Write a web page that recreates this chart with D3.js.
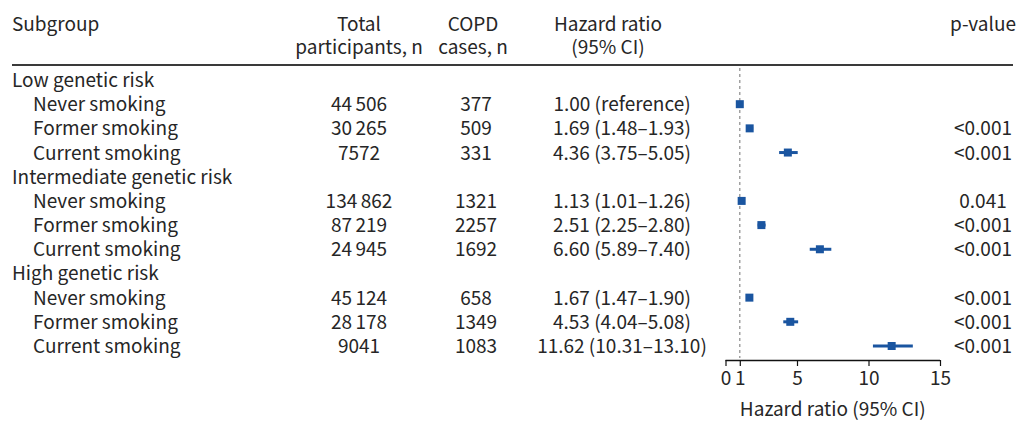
<!DOCTYPE html>
<html><head><meta charset="utf-8">
<script src="https://cdn.jsdelivr.net/npm/d3@7"></script>
<style>
body{margin:0;background:#fff;}
text{font-family:"Noto Sans CJK SC","Noto Sans",sans-serif;fill:#262626;}
</style></head>
<body>
<svg id="chart" width="1016" height="423"></svg>
<script>
const groups = ["Low genetic risk","Intermediate genetic risk","High genetic risk"];
const smoking = ["Never smoking","Former smoking","Current smoking"];
const totalN = [44506,30265,7572,134862,87219,24945,45124,28178,9041];
const copdCases = [377,509,331,1321,2257,1692,658,1349,1083];
const hr = [1.00,1.69,4.36,1.13,2.51,6.60,1.67,4.53,11.62];
const ciLow = [null,1.48,3.75,1.01,2.25,5.89,1.47,4.04,10.31];
const ciHigh = [null,1.93,5.05,1.26,2.80,7.40,1.90,5.08,13.10];
const pValues = ["","<0.001","<0.001","0.041","<0.001","<0.001","<0.001","<0.001","<0.001"];
const xTicks = [0,1,5,10,15];

const svg = d3.select("#chart");
const FS = 19;
const fmtHR = (i) => ciLow[i] == null ? d3.format(".2f")(hr[i]) + " (reference)"
  : d3.format(".2f")(hr[i]) + " (" + d3.format(".2f")(ciLow[i]) + "\u2013" + d3.format(".2f")(ciHigh[i]) + ")";

const rows = [];
groups.forEach((g, gi) => {
  rows.push({type:"group", label:g});
  smoking.forEach((s, si) => rows.push({type:"item", label:s, idx: gi*3+si}));
});
const y = d3.scalePoint().domain(d3.range(rows.length)).range([80, 346]);
const x = d3.scaleLinear().domain([0,15]).range([725.5, 940]);

const colX = {label:12, indent:33, total:359, cases:476, hr:622, p:983};
const baseOff = 7;

const hdr = svg.append("g").style("font-size", FS+"px");
hdr.append("text").attr("x", colX.label).attr("y", 31).text("Subgroup");
[["Total","participants, n",colX.total],["COPD","cases, n",colX.cases-3],["Hazard ratio","(95% CI)",608]].forEach(h=>{
  hdr.append("text").attr("x", h[2]).attr("y", 31).attr("text-anchor","middle").text(h[0]);
  hdr.append("text").attr("x", h[2]).attr("y", 54).attr("text-anchor","middle").text(h[1]);
});
hdr.append("text").attr("x", colX.p).attr("y", 31).attr("text-anchor","middle").text("p-value");
svg.append("line").attr("x1",12).attr("x2",1013).attr("y1",65).attr("y2",65)
  .attr("stroke","#3a3a3a").attr("stroke-width",2);

svg.append("line").attr("x1", x(1)).attr("x2", x(1)).attr("y1", 68).attr("y2", 358)
  .attr("stroke","#8a8a8a").attr("stroke-width",1.2).attr("stroke-dasharray","3,3");

const body = svg.append("g").style("font-size", FS+"px");
rows.forEach((r, ri) => {
  const yy = y(ri) + baseOff;
  if (r.type === "group") {
    body.append("text").attr("x", colX.label).attr("y", yy).text(r.label);
  } else {
    const i = r.idx;
    body.append("text").attr("x", colX.indent).attr("y", yy).text(r.label);
    const n = totalN[i];
    const t = body.append("text").attr("x", colX.total).attr("y", yy).attr("text-anchor","middle");
    if (n >= 10000) {
      const s = String(n);
      t.append("tspan").text(s.slice(0, s.length-3));
      t.append("tspan").attr("dx", 3.5).text(s.slice(-3));
    } else {
      t.text(String(n));
    }
    body.append("text").attr("x", colX.cases).attr("y", yy).attr("text-anchor","middle").text(copdCases[i]);
    body.append("text").attr("x", colX.hr).attr("y", yy).attr("text-anchor","middle").text(fmtHR(i));
    body.append("text").attr("x", colX.p).attr("y", yy).attr("text-anchor","middle").text(pValues[i]);
  }
});

const items = rows.map((r,ri)=>({...r, ri})).filter(r=>r.type==="item");
const marks = svg.append("g");
marks.selectAll("line.ci").data(items.filter(d=>ciLow[d.idx]!=null)).join("line")
  .attr("class","ci")
  .attr("x1", d=>x(ciLow[d.idx])).attr("x2", d=>x(ciHigh[d.idx]))
  .attr("y1", d=>y(d.ri)).attr("y2", d=>y(d.ri))
  .attr("stroke","#1a55a0").attr("stroke-width",3);
marks.selectAll("rect.pt").data(items).join("rect")
  .attr("class","pt")
  .attr("x", d=>x(hr[d.idx])-4).attr("y", d=>y(d.ri)-4)
  .attr("width",8).attr("height",8).attr("fill","#1a55a0");

const axis = d3.axisBottom(x).tickValues(xTicks).tickSize(6).tickPadding(6).tickFormat(d3.format("d"));
const ag = svg.append("g").attr("transform","translate(0,360)").call(axis);
ag.select(".domain").attr("stroke","#111").attr("stroke-width",1.5).attr("d", `M${x(0)},0.5H${x(15)}`);
ag.selectAll(".tick line").attr("stroke","#111").attr("stroke-width",1.2);
ag.selectAll(".tick text").style("font-size",FS+"px").attr("fill","#262626")
  .style("font-family",'"Noto Sans CJK SC","Noto Sans",sans-serif');
svg.append("text").attr("x", x(7.5)).attr("y", 416).attr("text-anchor","middle")
  .style("font-size",FS+"px").text("Hazard ratio (95% CI)");
</script>
</body></html>
